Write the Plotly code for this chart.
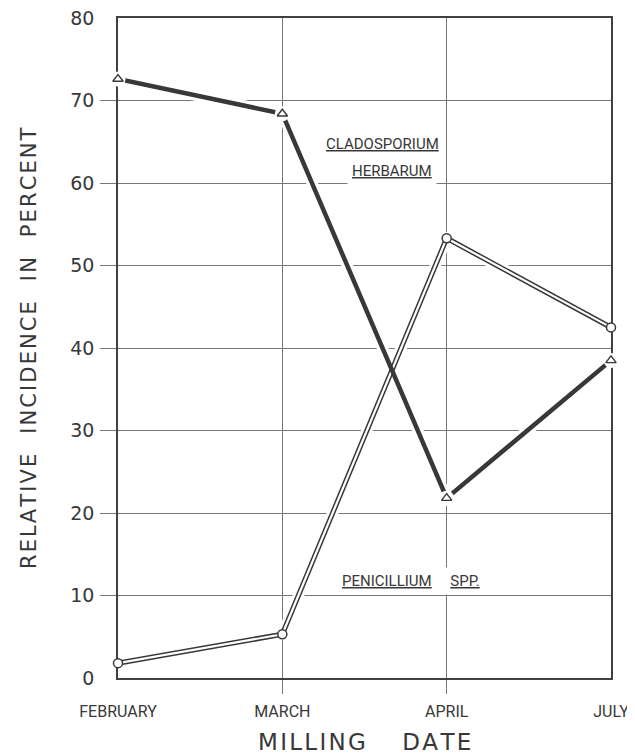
import plotly.graph_objects as go

# ---- data ----
months = ["FEBRUARY", "MARCH", "APRIL", "JULY"]
month_pos = [0, 1, 2, 3]
cladosporium = [72.6, 68.4, 21.8, 38.5]
penicillium = [1.8, 5.3, 53.3, 42.5]
y_ticks = [0, 10, 20, 30, 40, 50, 60, 70, 80]
y_tick_labels = ["0", "10", "20", "30", "40", "50", "60", "70", "80"]
inner_y_ticks = [10, 20, 30, 40, 50, 60, 70]
inner_x_ticks = [1, 2]

INK = "#383838"
GRID = "#777777"
FRAME = "#404040"
NARROW = "Liberation Sans Narrow, Arial Narrow, Roboto, sans-serif"
WIDE = "DejaVu Sans, Verdana, sans-serif"

HS = "\u200a"
NB = "\u00a0"


def spaced(text, gap):
    words = text.split(" ")
    return (NB * gap).join(HS.join(w) for w in words)


fig = go.Figure()

# white casings: break the grid where the drawn lines cross it
for series in (penicillium, cladosporium):
    fig.add_trace(go.Scatter(x=month_pos, y=series, mode="lines",
                             line=dict(color="white", width=11), cliponaxis=False,
                             hoverinfo="skip", showlegend=False))

# Penicillium: double (outlined) line
fig.add_trace(go.Scatter(x=month_pos, y=penicillium, mode="lines",
                         line=dict(color=INK, width=5.2), cliponaxis=False,
                         hoverinfo="skip", showlegend=False))
fig.add_trace(go.Scatter(x=month_pos, y=penicillium, mode="lines",
                         line=dict(color="white", width=2.2), cliponaxis=False,
                         hoverinfo="skip", showlegend=False))

# Cladosporium: thick line
fig.add_trace(go.Scatter(x=month_pos, y=cladosporium, mode="lines",
                         line=dict(color=INK, width=4.5), cliponaxis=False,
                         name="Cladosporium herbarum", showlegend=False))
# white halos around triangles
fig.add_trace(go.Scatter(x=month_pos, y=cladosporium, mode="markers",
                         marker=dict(symbol="circle", size=15, color="white",
                                     line=dict(width=0)),
                         cliponaxis=False, hoverinfo="skip", showlegend=False))
fig.add_trace(go.Scatter(x=month_pos, y=cladosporium, mode="markers",
                         marker=dict(symbol="triangle-up-open", size=9, color=INK,
                                     line=dict(width=1.4, color=INK)),
                         cliponaxis=False, showlegend=False))
# Penicillium circles
fig.add_trace(go.Scatter(x=month_pos, y=penicillium, mode="markers",
                         marker=dict(symbol="circle", size=9, color="white",
                                     line=dict(width=1.5, color=INK)),
                         cliponaxis=False, name="Penicillium spp.", showlegend=False))

label_font = dict(family=NARROW, size=15, color=INK)
fig.add_annotation(x=1.612, y=64.7, text="<u>CLADOSPORIUM</u>", showarrow=False,
                   font=label_font, bgcolor="white", borderpad=4)
fig.add_annotation(x=1.67, y=61.5, text="<u>HERBARUM</u>", showarrow=False,
                   font=label_font, bgcolor="white", borderpad=4)
fig.add_annotation(x=1.78, y=11.8,
                   text="<u>PENICILLIUM</u>" + NB * 5 + "<u>SPP.</u>",
                   showarrow=False, font=label_font, bgcolor="white", borderpad=4)

# axis titles
fig.add_annotation(xref="paper", yref="paper", x=0.5, y=0, yanchor="middle",
                   yshift=-64, text=spaced("MILLING DATE", 5), showarrow=False,
                   font=dict(family=WIDE, size=23, color=INK))
fig.add_annotation(xref="paper", yref="paper", x=0, y=0.5, xanchor="center",
                   xshift=-89, textangle=-90,
                   text=spaced("RELATIVE INCIDENCE IN PERCENT", 3), showarrow=False,
                   font=dict(family=WIDE, size=21, color=INK))

fig.update_xaxes(range=[0, 3], tickmode="array", tickvals=month_pos, ticktext=months,
                 ticks="", ticklabelstandoff=18, automargin=False,
                 ticklabeloverflow="allow",
                 tickfont=dict(family=NARROW, size=16, color=INK),
                 showgrid=True, gridcolor=GRID, gridwidth=1,
                 showline=True, linecolor=FRAME, linewidth=1.7, mirror=True,
                 zeroline=False, layer="below traces",
                 minor=dict(tickmode="array", tickvals=inner_x_ticks, ticks="outside",
                            ticklen=14, tickcolor=GRID, tickwidth=1, showgrid=False))
fig.update_yaxes(range=[0, 80], tickmode="array", tickvals=y_ticks, ticktext=y_tick_labels,
                 ticks="", ticklabelstandoff=18, automargin=False,
                 ticklabeloverflow="allow",
                 tickfont=dict(family=WIDE, size=19, color=INK),
                 showgrid=True, gridcolor=GRID, gridwidth=1,
                 showline=True, linecolor=FRAME, linewidth=1.7, mirror=True,
                 zeroline=False, layer="below traces",
                 minor=dict(tickmode="array", tickvals=inner_y_ticks, ticks="outside",
                            ticklen=16, tickcolor=GRID, tickwidth=1, showgrid=False))

# the page body keeps an 8px margin, so the figure is 8px smaller on each side
fig.update_layout(width=627, height=745,
                  margin=dict(l=110, r=24, t=10, b=75, autoexpand=False),
                  paper_bgcolor="white", plot_bgcolor="white",
                  showlegend=False)

fig.write_html("out.html")
